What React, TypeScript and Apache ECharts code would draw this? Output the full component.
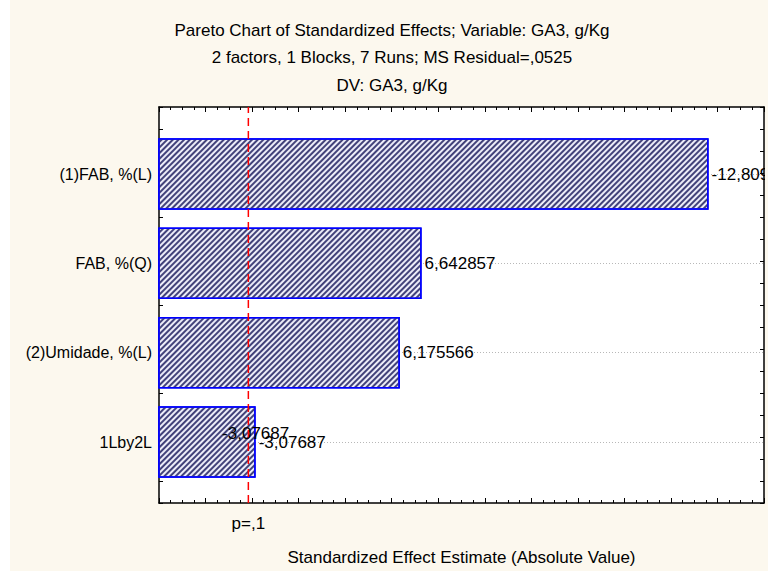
import React, { useEffect, useRef } from "react";
import * as echarts from "echarts";

// Header lines above the plot
const titleLines = [
  "Pareto Chart of Standardized Effects; Variable: GA3, g/Kg",
  "2 factors, 1 Blocks, 7 Runs; MS Residual=,0525",
  "DV: GA3, g/Kg",
];

// Effects (signed t values); bars show their absolute value
const factors = ["(1)FAB, %(L)", "FAB, %(Q)", "(2)Umidade, %(L)", "1Lby2L"];
const effects = [-12.8095, 6.642857, 6.175566, -3.07687];

// Critical t value for p = .1 (2 residual df)
const criticalT = 2.919986;
const criticalLabel = "p=,1";

const xName = "Standardized Effect Estimate (Absolute Value)";
const xMin = 1;
const xMax = 14;
const yMin = 0.25;
const yMax = 4.75;

const FONT = "'Liberation Sans', Arial, sans-serif";
const CREAM = "#fcf8ee";

const fmt = (v: number) => String(v).replace(".", ",");

export default function App() {
  const ref = useRef<HTMLDivElement>(null);

  useEffect(() => {
    if (!ref.current) return;
    const chart = echarts.init(ref.current, undefined, { renderer: "svg" });

    const frame = { left: 159, top: 107, width: 605, height: 402 };
    const unit = frame.height / (yMax - yMin);
    const barGrid = {
      left: frame.left,
      width: frame.width,
      top: frame.top + (0.5 - yMin) * unit,
      height: factors.length * unit,
    };

    const axisLine = { show: true, lineStyle: { color: "#000", width: 1.5 } };
    const frameX = (position: "top" | "bottom") => ({
      type: "value",
      gridIndex: 1,
      position,
      min: xMin,
      max: xMax,
      interval: 1,
      axisLine,
      axisTick: { show: true, inside: true, length: 5, lineStyle: { color: "#000", width: 1 } },
      minorTick: { show: true, splitNumber: 4, length: 3, lineStyle: { color: "#000", width: 1 } },
      axisLabel: { show: false },
      splitLine: { show: false },
    });
    const frameY = (position: "left" | "right") => ({
      type: "value",
      gridIndex: 1,
      position,
      min: yMin,
      max: yMax,
      interval: 0.25,
      axisLine,
      axisTick: { show: true, inside: true, length: 4, lineStyle: { color: "#000", width: 1 } },
      axisLabel: { show: false },
      splitLine: { show: false },
    });

    const labelText = {
      fontSize: 17,
      color: "#000",
      fontFamily: FONT,
      textBorderWidth: 0,
      opacity: 1,
    };

    const option: any = {
      animation: false,
      backgroundColor: CREAM,
      textStyle: { fontFamily: FONT },
      grid: [
        { ...barGrid, containLabel: false },
        { ...frame, show: true, backgroundColor: "#ffffff", borderWidth: 0, containLabel: false },
      ],
      xAxis: [
        { type: "value", gridIndex: 0, min: xMin, max: xMax, show: false },
        {
          ...frameX("bottom"),
          name: xName,
          nameLocation: "middle",
          nameGap: 46,
          nameTextStyle: { fontSize: 17, color: "#000", fontFamily: FONT },
        },
        frameX("top"),
      ],
      yAxis: [
        {
          type: "category",
          gridIndex: 0,
          inverse: true,
          data: factors,
          axisLine: { show: false },
          axisTick: { show: false },
          splitLine: { show: false },
          axisLabel: { fontSize: 16, color: "#000", margin: 7, fontFamily: FONT },
        },
        frameY("left"),
        frameY("right"),
      ],
      series: [
        {
          type: "bar",
          xAxisIndex: 0,
          yAxisIndex: 0,
          data: effects.map((v) => Math.abs(v)),
          barWidth: "80%",
          itemStyle: {
            color: "#ececf8",
            borderColor: "#0000ff",
            borderWidth: 1.5,
            decal: {
              symbol: "rect",
              symbolSize: 1,
              color: "#42427a",
              dashArrayX: [1, 0],
              dashArrayY: [2, 2],
              rotation: -Math.PI / 4,
            },
          },
          label: {
            show: true,
            position: "right",
            distance: 3,
            ...labelText,
            formatter: (p: any) => fmt(effects[p.dataIndex]),
          },
          markLine: {
            silent: true,
            symbol: "none",
            z: 1,
            label: { show: false },
            lineStyle: { color: "#b8b8b8", type: [1, 2], width: 1 },
            data: factors.map((f) => ({ yAxis: f })),
          },
          z: 2,
        },
        {
          // second value tag on the interaction bar
          type: "scatter",
          xAxisIndex: 0,
          yAxisIndex: 0,
          symbol: "circle",
          symbolSize: 0,
          itemStyle: { opacity: 1 },
          data: [[Math.abs(effects[3]), factors[3]]],
          label: {
            show: true,
            position: "top",
            distance: 0,
            ...labelText,
            formatter: () => fmt(effects[3]),
          },
          z: 6,
        },
        {
          // significance threshold
          type: "line",
          xAxisIndex: 1,
          yAxisIndex: 1,
          symbol: "circle",
          symbolSize: 0,
          showSymbol: true,
          data: [
            {
              value: [criticalT, yMin],
              label: {
                show: true,
                position: "bottom",
                distance: 12,
                ...labelText,
                formatter: criticalLabel,
              },
            },
            { value: [criticalT, yMax], label: { show: false } },
          ],
          lineStyle: { color: "#ff0000", width: 1.5, type: [8, 5] },
          z: 5,
        },
      ],
      graphic: [
        { type: "rect", shape: { x: 0, y: 0, width: 10, height: 571 }, style: { fill: "#ffffff" }, z: 0 },
        { type: "rect", shape: { x: 765, y: 100, width: 10, height: 420 }, style: { fill: CREAM }, z: 100 },
        ...titleLines.map((t, i) => ({
          type: "text",
          x: 392,
          y: 30 + i * 27.7,
          z: 100,
          style: {
            text: t,
            fill: "#000",
            font: `17px ${FONT}`,
            align: "center",
            verticalAlign: "middle",
          },
        })),
      ],
    };

    chart.setOption(option);
    return () => chart.dispose();
  }, []);

  return (
    <div
      ref={ref}
      style={{ position: "fixed", left: 0, top: 0, width: 768, height: 571 }}
    />
  );
}
